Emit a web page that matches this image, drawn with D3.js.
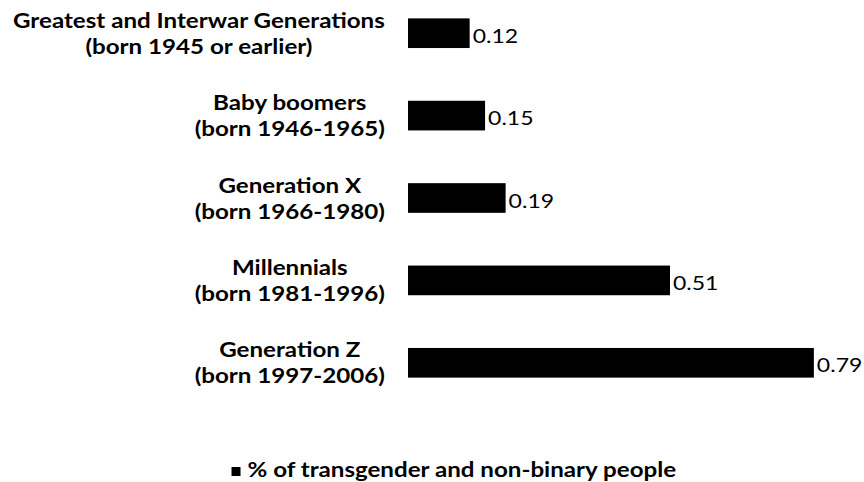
<!DOCTYPE html>
<html lang="en">
    <head>
        <meta charset="utf-8">
        <title>Transgender and non-binary by generation</title>
        <script type="text/javascript" src="https://d3js.org/d3.v7.min.js"></script>
        <style type="text/css">
            body { margin: 0; background: #fff; }
            text { font-family: Lato, "Open Sans", sans-serif; fill: #000; }
        </style>
    </head>
    <body>
        <div id="chart"></div>
        <script type="text/javascript">

            // data
            var generations = ["Greatest and Interwar Generations", "Baby boomers", "Generation X", "Millennials", "Generation Z"];
            var born = ["(born 1945 or earlier)", "(born 1946-1965)", "(born 1966-1980)", "(born 1981-1996)", "(born 1997-2006)"];
            var shares = [0.12, 0.15, 0.19, 0.51, 0.79];
            var seriesName = "% of transgender and non-binary people";

            var width = 864, height = 482;
            // the original text is a bit wider than Lato, so stretch it sideways
            var sx = 1.15;

            var svg = d3.select("#chart")
                .append("svg")
                    .attr("width", width)
                    .attr("height", height);

            var data = generations.map(function(g, i) {
                return { name: g, born: born[i], value: shares[i] };
            });

            var x = d3.scaleLinear()
                .domain([0, 0.8])
                .range([408, 819]);

            var y = d3.scaleBand()
                .domain(generations)
                .range([-8, 404])
                .paddingInner(0.64)
                .paddingOuter(0.32);

            function place(sel, px, py) {
                sel.attr("transform", "translate(" + px + "," + py + ") scale(" + sx + ",1)");
            }

            // bars
            svg.selectAll("rect.bar")
                .data(data)
                .enter().append("rect")
                    .attr("class", "bar")
                    .attr("x", x(0))
                    .attr("y", function(d) { return y(d.name); })
                    .attr("width", function(d) { return x(d.value) - x(0); })
                    .attr("height", y.bandwidth())
                    .attr("fill", "#000");

            // value labels
            svg.selectAll("text.val")
                .data(data)
                .enter().append("text")
                    .attr("class", "val")
                    .style("font-size", "20px")
                    .text(function(d) { return d.value.toFixed(2); })
                    .each(function(d) {
                        place(d3.select(this), x(d.value) + 3, y(d.name) + y.bandwidth() / 2 + 9.5);
                    });

            // category labels: two centred lines, block right aligned
            var right = 385;
            svg.selectAll("g.cat")
                .data(data)
                .enter().append("g")
                    .attr("class", "cat")
                    .each(function(d) {
                        var g = d3.select(this);
                        var cy = y(d.name) + y.bandwidth() / 2;
                        var t1 = g.append("text")
                            .attr("text-anchor", "middle")
                            .style("font-size", "21px")
                            .style("font-weight", "bold")
                            .text(d.name);
                        var t2 = g.append("text")
                            .attr("text-anchor", "middle")
                            .style("font-size", "21px")
                            .style("font-weight", "bold")
                            .text(d.born);
                        var w = sx * Math.max(t1.node().getComputedTextLength(), t2.node().getComputedTextLength());
                        place(t1, right - w / 2, cy - 5.5);
                        place(t2, right - w / 2, cy + 20.5);
                    });

            // legend
            var legend = svg.append("g");
            var lt = legend.append("text")
                .style("font-size", "21px")
                .style("font-weight", "bold")
                .text(seriesName);
            var lw = sx * lt.node().getComputedTextLength();
            var lx = 454 - (lw + 16) / 2;
            legend.append("rect")
                .attr("x", lx)
                .attr("y", 467)
                .attr("width", 9)
                .attr("height", 9)
                .attr("fill", "#000");
            place(lt, lx + 16, 477);
        </script>
    </body>
</html>
